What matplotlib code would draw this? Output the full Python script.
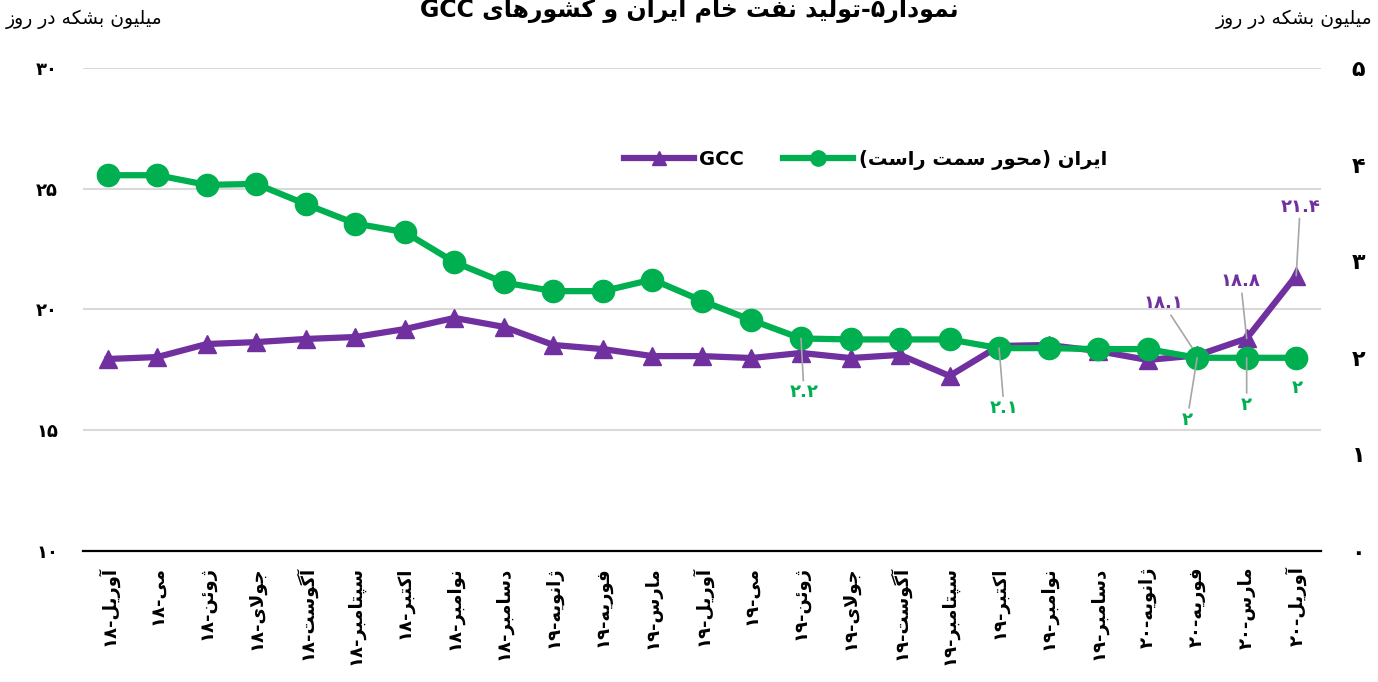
"""Crude oil production: Iran vs GCC, Apr-18 .. Apr-20 (Persian labels)."""

import re

import matplotlib
matplotlib.use("Agg")
import matplotlib.pyplot as plt
from matplotlib.lines import Line2D

plt.rcParams.update({
    "font.family": ["DejaVu Sans"],
    "axes.spines.top": False,
    "axes.spines.right": False,
})

# ---------------------------------------------------------------------------
# Data
# ---------------------------------------------------------------------------
months = ["آوریل", "می", "ژوئن", "جولای", "آگوست", "سپتامبر", "اکتبر", "نوامبر", "دسامبر",
          "ژانویه", "فوریه", "مارس", "آوریل", "می", "ژوئن", "جولای", "آگوست", "سپتامبر",
          "اکتبر", "نوامبر", "دسامبر", "ژانویه", "فوریه", "مارس", "آوریل"]
years = ["18"] * 9 + ["19"] * 12 + ["20"] * 4

# GCC, million barrels per day (left axis)
gcc = [17.95, 18.03, 18.57, 18.65, 18.78, 18.86, 19.19, 19.65, 19.28, 18.53, 18.36, 18.07, 18.07,
       17.99, 18.20, 17.99, 18.12, 17.25, 18.49, 18.53, 18.28, 17.91, 18.1, 18.8, 21.4]
# Iran, million barrels per day (right axis)
iran = [3.89, 3.89, 3.79, 3.80, 3.59, 3.39, 3.30, 2.99, 2.78, 2.69, 2.69, 2.81, 2.59,
        2.39, 2.2, 2.19, 2.19, 2.19, 2.1, 2.10, 2.09, 2.09, 2.0, 2.0, 2.0]

gcc_labelled = [22, 23, 24]
iran_labelled = [14, 18, 22, 23, 24]

PURPLE = "#7030A0"
GREEN = "#00B050"
LEADER = "#A6A6A6"

# ---------------------------------------------------------------------------
# Minimal Persian shaping (matplotlib has no bidi / joining support)
# ---------------------------------------------------------------------------
FORMS = {  # isolated, final, initial, medial
    "ا": (0xFE8D, 0xFE8E, None, None), "آ": (0xFE81, 0xFE82, None, None),
    "ب": (0xFE8F, 0xFE90, 0xFE91, 0xFE92), "پ": (0xFB56, 0xFB57, 0xFB58, 0xFB59),
    "ت": (0xFE95, 0xFE96, 0xFE97, 0xFE98), "ث": (0xFE99, 0xFE9A, 0xFE9B, 0xFE9C),
    "ج": (0xFE9D, 0xFE9E, 0xFE9F, 0xFEA0), "چ": (0xFB7A, 0xFB7B, 0xFB7C, 0xFB7D),
    "ح": (0xFEA1, 0xFEA2, 0xFEA3, 0xFEA4), "خ": (0xFEA5, 0xFEA6, 0xFEA7, 0xFEA8),
    "د": (0xFEA9, 0xFEAA, None, None), "ذ": (0xFEAB, 0xFEAC, None, None),
    "ر": (0xFEAD, 0xFEAE, None, None), "ز": (0xFEAF, 0xFEB0, None, None),
    "ژ": (0xFB8A, 0xFB8B, None, None),
    "س": (0xFEB1, 0xFEB2, 0xFEB3, 0xFEB4), "ش": (0xFEB5, 0xFEB6, 0xFEB7, 0xFEB8),
    "ع": (0xFEC9, 0xFECA, 0xFECB, 0xFECC), "ف": (0xFED1, 0xFED2, 0xFED3, 0xFED4),
    "ق": (0xFED5, 0xFED6, 0xFED7, 0xFED8), "ک": (0xFB8E, 0xFB8F, 0xFB90, 0xFB91),
    "گ": (0xFB92, 0xFB93, 0xFB94, 0xFB95), "ل": (0xFEDD, 0xFEDE, 0xFEDF, 0xFEE0),
    "م": (0xFEE1, 0xFEE2, 0xFEE3, 0xFEE4), "ن": (0xFEE5, 0xFEE6, 0xFEE7, 0xFEE8),
    "و": (0xFEED, 0xFEEE, None, None), "ه": (0xFEE9, 0xFEEA, 0xFEEB, 0xFEEC),
    "ی": (0xFBFC, 0xFBFD, 0xFBFE, 0xFBFF), "ئ": (0xFE89, 0xFE8A, 0xFE8B, 0xFE8C),
}
LAM_ALEF = {"ا": (0xFEFB, 0xFEFC), "آ": (0xFEF5, 0xFEF6)}
LTR = r"[0-9\u06F0-\u06F9A-Za-z]+(?:\.[0-9\u06F0-\u06F9]+)*"
MIRROR = str.maketrans("()", ")(")
FA_DIGITS = str.maketrans("0123456789", "۰۱۲۳۴۵۶۷۸۹")


def dual(c):
    return c in FORMS and FORMS[c][2] is not None


def shape(s):
    out, i = [], 0
    while i < len(s):
        c = s[i]
        prev = s[i - 1] if i > 0 else ""
        nxt = s[i + 1] if i + 1 < len(s) else ""
        if c == "ل" and nxt in LAM_ALEF:
            out.append(chr(LAM_ALEF[nxt][1 if dual(prev) else 0]))
            i += 2
            continue
        if c in FORMS:
            p = dual(prev)
            n = dual(c) and nxt in FORMS
            f = FORMS[c]
            out.append(chr(f[3] if p and n else f[1] if p else f[2] if n else f[0]))
        else:
            out.append(c)
        i += 1
    return "".join(out)


def rtl(s):
    parts = re.split("(" + LTR + ")", shape(s.translate(FA_DIGITS)))
    vis = []
    for p in reversed(parts):
        vis.append(p if re.fullmatch(LTR, p) else p[::-1].translate(MIRROR))
    return "".join(vis)


def fa_num(v):
    txt = f"{v:.1f}".rstrip("0").rstrip(".")
    return txt.translate(FA_DIGITS)


# ---------------------------------------------------------------------------
# Figure
# ---------------------------------------------------------------------------
fig = plt.figure(figsize=(13.78, 6.82), dpi=100)
ax = fig.add_axes([0.0602, 0.1921, 0.8984, 0.7082])
ax2 = ax.twinx()

x = list(range(len(months)))
ax.plot(x, gcc, color=PURPLE, lw=4.5, marker="^", ms=13, zorder=3)
ax2.plot(x, iran, color=GREEN, lw=4.5, marker="o", ms=16, zorder=3)

ax.set_xlim(-0.5, len(months) - 0.5)
ax.set_ylim(10, 30)
ax2.set_ylim(0, 5)

ax.set_yticks([10, 15, 20, 25, 30])
ax.set_yticklabels([str(v).translate(FA_DIGITS) for v in [10, 15, 20, 25, 30]],
                   fontsize=13, fontweight="bold")
ax2.set_yticks(range(6))
ax2.set_yticklabels([str(v).translate(FA_DIGITS) for v in range(6)],
                    fontsize=16, fontweight="bold")
ax.tick_params(axis="y", length=0, pad=18)
ax2.tick_params(axis="y", length=0, pad=22)

ax.set_xticks(x)
ax.set_xticklabels([rtl(f"{m}-{y}") for m, y in zip(months, years)],
                   rotation=90, fontsize=13, fontweight="bold", va="top", ha="center")
ax.tick_params(axis="x", length=0, pad=11)

ax.yaxis.grid(True, color="#D9D9D9", lw=1.5)
ax.set_axisbelow(True)
for a in (ax, ax2):
    for side in ("top", "right", "left"):
        a.spines[side].set_visible(False)
ax.spines["bottom"].set_color("black")
ax.spines["bottom"].set_linewidth(1.6)
ax2.spines["bottom"].set_visible(False)

# data labels with grey leader lines (offsets in pixels)
gcc_off = {22: (-34, 52), 23: (-6, 57), 24: (4, 69)}
iran_off = {14: (3, -54), 18: (5, -60), 22: (-10, -62), 23: (0, -47), 24: (1, -30)}
for i in gcc_labelled:
    ax.annotate(fa_num(gcc[i]), (i, gcc[i]), xytext=gcc_off[i], textcoords="offset pixels",
                ha="center", va="center", fontsize=13, fontweight="bold", color=PURPLE,
                arrowprops=dict(arrowstyle="-", color=LEADER, lw=1.2, shrinkA=0, shrinkB=0),
                zorder=5)
for i in iran_labelled:
    arrow = None if i == 24 else dict(arrowstyle="-", color=LEADER, lw=1.2,
                                      shrinkA=0, shrinkB=0)
    ax2.annotate(fa_num(iran[i]), (i, iran[i]), xytext=iran_off[i], textcoords="offset pixels",
                 ha="center", va="center", fontsize=13, fontweight="bold", color=GREEN,
                 arrowprops=arrow, zorder=5)

# legend
handles = [
    Line2D([], [], color=PURPLE, lw=4.5, marker="^", ms=10),
    Line2D([], [], color=GREEN, lw=4.5, marker="o", ms=11),
]
ax2.legend(handles, ["GCC", rtl("ایران (محور سمت راست)")], loc="center",
           bbox_to_anchor=(0.632, 0.81), ncol=2, frameon=False, handlelength=3.6,
           columnspacing=2.0, handletextpad=0.3,
           prop={"size": 14, "weight": "bold"})

# titles and units
fig.text(0.5, 0.975, rtl("نمودار۵-تولید نفت خام ایران و کشورهای GCC"),
         ha="center", va="baseline", fontsize=17, fontweight="bold")
fig.text(0.004, 0.972, rtl("میلیون بشکه در روز"), ha="left", va="center", fontsize=13.5)
fig.text(0.996, 0.972, rtl("میلیون بشکه در روز"), ha="right", va="center", fontsize=13.5)

fig.savefig("out.png", dpi=100)
